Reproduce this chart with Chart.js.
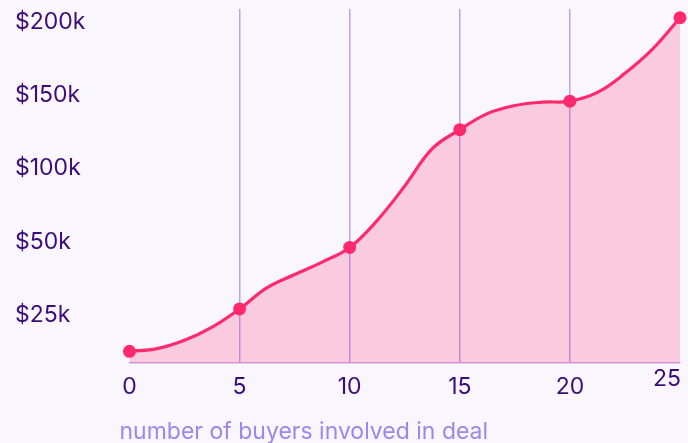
<!DOCTYPE html>
<html>
<head>
<meta charset="utf-8">
<script src="https://cdn.jsdelivr.net/npm/chart.js@4.4.1/dist/chart.umd.min.js"></script>
<style>
  html, body { margin: 0; padding: 0; background: #f9f6fe; }
  #wrap { width: 688px; height: 443px; }
</style>
</head>
<body>
<div id="wrap"><canvas id="chart"></canvas></div>
<script>
// values (y in "axis units", the labels are not linear)
const buyers      = [0, 5, 10, 15, 20, 25];
const dealValue   = [-25, 4, 46, 126.5, 146, 203];
const curveX      = [0, 1.25, 2.5, 3.75, 5, 6.25, 7.5, 8.75, 10, 11.25, 12.5,
                     13.75, 15, 16.25, 17.5, 18.75, 20, 21.25, 22.5, 23.75, 25];
const curveY      = [-25, -23.2, -17.5, -8.5, 4, 18.5, 27.5, 36, 46, 64.5, 88,
                     113.5, 126.5, 137.5, 143, 145.3, 146, 152, 165, 181.5, 203];
const xTickValues = [0, 5, 10, 15, 20, 25];
const yTickValues = [0, 50, 100, 150, 200];
const yTickLabels = ['$25k', '$50k', '$100k', '$150k', '$200k'];
const xTitle      = 'number of buyers involved in deal';

const lineColor = '#ff2a6e';
const textColor = '#3d0c78';

const axisTitle = {
  id: 'axisTitle',
  afterDraw(chart) {
    const ctx = chart.ctx;
    ctx.save();
    ctx.font = '23px Inter';
    ctx.fillStyle = '#9d86ee';
    ctx.textAlign = 'left';
    ctx.textBaseline = 'middle';
    ctx.fillText(xTitle, chart.chartArea.left - 10, 432);
    ctx.restore();
  }
};

const ctx = document.getElementById('chart').getContext('2d');
new Chart(ctx, {
  type: 'line',
  data: {
    datasets: [{
      // markers
      data: buyers.map((b, i) => ({x: b, y: dealValue[i]})),
      showLine: false,
      pointRadius: 6.5,
      pointBackgroundColor: lineColor,
      pointBorderWidth: 0,
      clip: 10
    }, {
      // curve + area
      data: curveX.map((b, i) => ({x: b, y: curveY[i]})),
      borderColor: lineColor,
      backgroundColor: 'rgba(255,42,110,0.21)',
      borderWidth: 3.2,
      fill: 'start',
      tension: 0.4,
      pointRadius: 0,
      clip: 10
    }]
  },
  options: {
    responsive: true,
    maintainAspectRatio: false,
    animation: false,
    devicePixelRatio: 1,
    layout: { padding: { left: 15, top: 9, right: 8, bottom: 0 } },
    plugins: { legend: { display: false }, tooltip: { enabled: false } },
    scales: {
      x: {
        type: 'linear',
        min: 0,
        max: 25,
        afterBuildTicks: (s) => { s.ticks = xTickValues.map(v => ({value: v})); },
        afterFit: (s) => { s.height = 80; s.paddingLeft = 0; s.paddingRight = 0; },
        grid: {
          drawTicks: false,
          lineWidth: 1.5,
          color: (c) => (c.tick && (c.tick.value === 0 || c.tick.value === 25)) ? 'rgba(0,0,0,0)' : '#b9a2f3'
        },
        border: { display: true, color: '#cba6ea', width: 1.5 },
        ticks: {
          padding: 10,
          color: textColor,
          font: (c) => ({
            family: 'Inter',
            size: 23,
            lineHeight: (c.tick && c.tick.value === 25) ? 0.5 : 1.2
          }),
          // last label sits left of its tick in the original
          callback: (v) => v === 25 ? '25    ' : String(v)
        }
      },
      y: {
        min: -33,
        max: 209,
        afterBuildTicks: (s) => { s.ticks = yTickValues.map(v => ({value: v})); },
        afterFit: (s) => { s.width = 114.5; s.paddingTop = 0; s.paddingBottom = 0; },
        grid: { display: false, drawTicks: false },
        border: { display: false },
        ticks: {
          crossAlign: 'far',
          color: textColor,
          font: { family: 'Inter', size: 23 },
          callback: (v) => yTickLabels[yTickValues.indexOf(v)]
        }
      }
    }
  },
  plugins: [axisTitle]
});
</script>
</body>
</html>
